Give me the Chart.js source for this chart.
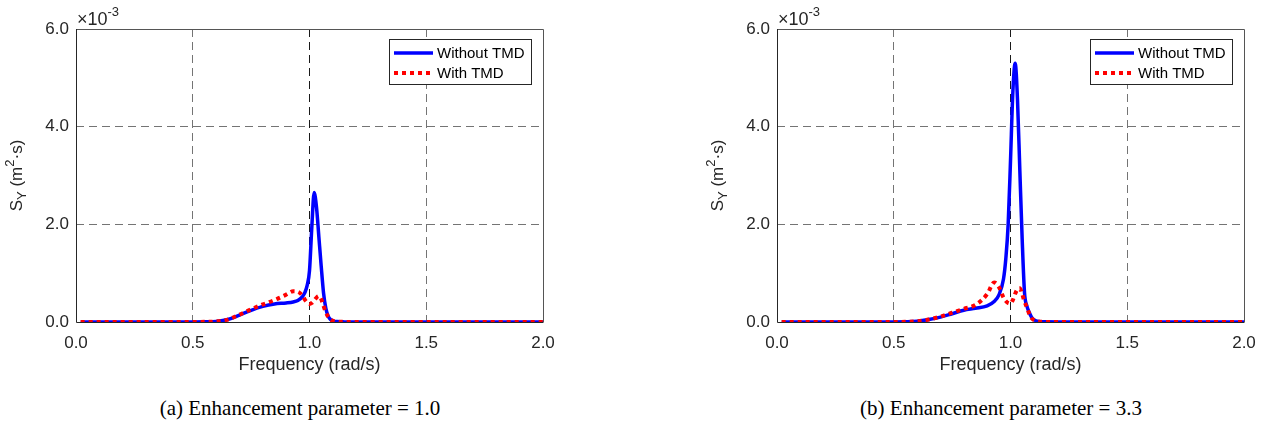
<!DOCTYPE html>
<html lang="en">
<head>
<meta charset="UTF-8">
<title>S_Y with and without TMD</title>
<script src="https://cdn.jsdelivr.net/npm/chart.js@4.4.0/dist/chart.umd.min.js"></script>
<style>
  body { margin: 0; background: #fff; width: 1265px; height: 426px; position: relative; overflow: hidden; }
  .panel { position: absolute; top: 0; }
  .caption { position: absolute; top: 396px; width: 400px; text-align: center;
    font-family: "Liberation Serif", "Times New Roman", serif; font-size: 21px; line-height: 24px; color: #000; }
</style>
</head>
<body>
  <div class="panel" style="left:0"><canvas id="chartA" width="560" height="380"></canvas></div>
  <div class="panel" style="left:701px"><canvas id="chartB" width="560" height="380"></canvas></div>
  <div class="caption" id="capA" style="left:100px"></div>
  <div class="caption" id="capB" style="left:801px"></div>

<script>
const freq = [0.02, 0.1, 0.2, 0.3, 0.4, 0.5, 0.55, 0.6, 0.65, 0.7, 0.75, 0.8, 0.85, 0.9,
  0.93, 0.95, 0.97, 0.98, 0.99, 1.0, 1.01, 1.02, 1.03, 1.04, 1.05, 1.06, 1.07, 1.08, 1.09, 1.1,
  1.12, 1.15, 1.2, 1.3, 1.4, 1.5, 1.6, 1.7, 1.8, 2.0];

// S_Y values in units of 1e-3 m^2.s
// (a) enhancement parameter = 1.0
const sy1Without = [0, 0, 0, 0, 0, 0.001, 0.003, 0.012, 0.05, 0.14, 0.24, 0.32, 0.37, 0.39,
  0.41, 0.44, 0.52, 0.6, 0.75, 1.05, 1.95, 2.65, 2.35, 1.75, 1.15, 0.6, 0.28, 0.12, 0.05, 0.025,
  0.008, 0.002, 0, 0, 0, 0, 0, 0, 0, 0];
const sy1With = [0, 0, 0, 0, 0, 0.001, 0.003, 0.012, 0.05, 0.15, 0.26, 0.36, 0.45, 0.56,
  0.63, 0.62, 0.54, 0.46, 0.4, 0.37, 0.39, 0.44, 0.5, 0.53, 0.47, 0.33, 0.2, 0.11, 0.05, 0.025,
  0.008, 0.002, 0, 0, 0, 0, 0, 0, 0, 0];
// (b) enhancement parameter = 3.3
const sy2Without = [0, 0, 0, 0, 0, 0.001, 0.004, 0.015, 0.05, 0.1, 0.17, 0.24, 0.28, 0.33,
  0.42, 0.55, 0.88, 1.3, 2.0, 3.3, 4.7, 5.3, 4.55, 3.1, 1.7, 0.6, 0.33, 0.2, 0.1, 0.05,
  0.012, 0.003, 0, 0, 0, 0, 0, 0, 0, 0];
const sy2With = [0, 0, 0, 0, 0, 0.001, 0.004, 0.015, 0.05, 0.11, 0.19, 0.27, 0.35, 0.57,
  0.81, 0.72, 0.5, 0.43, 0.39, 0.38, 0.45, 0.58, 0.67, 0.69, 0.57, 0.42, 0.3, 0.17, 0.08, 0.04,
  0.01, 0.002, 0, 0, 0, 0, 0, 0, 0, 0];

const xTicks = [0, 0.5, 1.0, 1.5, 2.0];
const yTicks = [0, 2, 4, 6];
const seriesNames = ['Without TMD', 'With TMD'];
const captions = ['(a) Enhancement parameter = 1.0', '(b) Enhancement parameter = 3.3'];

const SANS = '"Liberation Sans", Arial, sans-serif';
Chart.defaults.font.family = SANS;
Chart.defaults.color = '#262626';

// box, axis titles, exponent and legend, MATLAB style
const decorations = {
  id: 'decorations',
  beforeDatasetsDraw(chart) {
    const { ctx, chartArea: a } = chart;
    ctx.save();
    ctx.lineWidth = 1;
    ctx.strokeStyle = '#555';
    ctx.beginPath();
    ctx.moveTo(a.left, a.top + 0.5); ctx.lineTo(a.right + 0.5, a.top + 0.5); ctx.lineTo(a.right + 0.5, a.bottom);
    ctx.stroke();
    ctx.strokeStyle = '#262626';
    ctx.beginPath();
    ctx.moveTo(a.left + 0.5, a.top); ctx.lineTo(a.left + 0.5, a.bottom + 0.5); ctx.lineTo(a.right + 0.5, a.bottom + 0.5);
    ctx.stroke();
    ctx.restore();
  },
  afterDraw(chart) {
    const { ctx, chartArea: a } = chart;
    ctx.save();
    ctx.fillStyle = '#262626';

    // x title
    ctx.font = '18px ' + SANS;
    ctx.textAlign = 'center';
    ctx.textBaseline = 'middle';
    ctx.fillText('Frequency (rad/s)', (a.left + a.right) / 2, 365);

    // y title with subscript / superscript
    const parts = [['S', 17, 0], ['Y', 13, 5], [' (m', 17, 0], ['2', 13, -7], ['\u00b7s)', 17, 0]];
    let total = 0;
    parts.forEach(p => { ctx.font = p[1] + 'px ' + SANS; total += ctx.measureText(p[0]).width; });
    ctx.translate(17, (a.top + a.bottom) / 2);
    ctx.rotate(-Math.PI / 2);
    ctx.textAlign = 'left';
    let x = -total / 2;
    parts.forEach(p => {
      ctx.font = p[1] + 'px ' + SANS;
      ctx.fillText(p[0], x, p[2]);
      x += ctx.measureText(p[0]).width;
    });
    ctx.setTransform(1, 0, 0, 1, 0, 0);

    // exponent
    ctx.textBaseline = 'alphabetic';
    ctx.font = '18px ' + SANS;
    ctx.fillText('\u00d710', a.left + 1, a.top - 4);
    const w = ctx.measureText('\u00d710').width;
    ctx.font = '13px ' + SANS;
    ctx.fillText('-3', a.left + 1 + w, a.top - 13);

    // legend
    const bx = a.right - 154, by = a.top + 10;
    ctx.fillStyle = '#fff';
    ctx.fillRect(bx, by, 142, 45);
    ctx.strokeStyle = '#262626';
    ctx.lineWidth = 1;
    ctx.strokeRect(bx + 0.5, by + 0.5, 142, 45);
    chart.data.datasets.forEach((ds, i) => {
      const ly = by + 14 + i * 20;
      ctx.beginPath();
      ctx.strokeStyle = ds.borderColor;
      ctx.lineWidth = ds.borderWidth;
      ctx.setLineDash(ds.borderDash || []);
      ctx.moveTo(bx + 5, ly);
      ctx.lineTo(bx + 44, ly);
      ctx.stroke();
      ctx.setLineDash([]);
      ctx.fillStyle = '#000';
      ctx.font = '15px ' + SANS;
      ctx.textBaseline = 'middle';
      ctx.fillText(ds.label, bx + 48, ly + 1);
    });
    ctx.restore();
  }
};

const gridGray = '#747474';

function makeChart(id, without, withTmd) {
  const pts = arr => freq.map((f, i) => ({ x: f, y: arr[i] }));
  return new Chart(document.getElementById(id), {
    type: 'line',
    data: {
      datasets: [
        { label: seriesNames[0], data: pts(without), borderColor: '#0000ff', borderWidth: 3.5,
          pointRadius: 0, cubicInterpolationMode: 'monotone', order: 2 },
        { label: seriesNames[1], data: pts(withTmd), borderColor: '#ff0000', borderWidth: 4,
          borderDash: [4, 4], pointRadius: 0, cubicInterpolationMode: 'monotone', order: 1 }
      ]
    },
    options: {
      responsive: false,
      animation: false,
      events: [],
      layout: { padding: { left: 0, right: 17, top: 29, bottom: 0 } },
      plugins: { legend: { display: false }, tooltip: { enabled: false } },
      scales: {
        x: {
          type: 'linear', min: 0, max: 2,
          afterBuildTicks: s => { s.ticks = xTicks.map(v => ({ value: v })); },
          afterFit: s => { s.height = 58; s.paddingLeft = 0; s.paddingRight = 0; },
          ticks: { font: { size: 17 }, padding: 11, callback: v => v.toFixed(1) },
          grid: {
            drawTicks: false,
            color: c => c.tick.value === 1 ? '#1a1a1a' : (c.tick.value === 0 || c.tick.value === 2 ? 'rgba(0,0,0,0)' : gridGray)
          },
          border: { display: false, dash: [8, 5] }
        },
        y: {
          min: 0, max: 6,
          afterBuildTicks: s => { s.ticks = yTicks.map(v => ({ value: v })); },
          afterFit: s => { s.width = 76; s.paddingTop = 0; s.paddingBottom = 0; },
          ticks: { font: { size: 17 }, padding: 7, callback: v => v.toFixed(1) },
          grid: {
            drawTicks: false,
            color: c => (c.tick.value === 0 || c.tick.value === 6) ? 'rgba(0,0,0,0)' : gridGray
          },
          border: { display: false, dash: [8, 5] }
        }
      }
    },
    plugins: [decorations]
  });
}

makeChart('chartA', sy1Without, sy1With);
makeChart('chartB', sy2Without, sy2With);
document.getElementById('capA').textContent = captions[0];
document.getElementById('capB').textContent = captions[1];
</script>
</body>
</html>
